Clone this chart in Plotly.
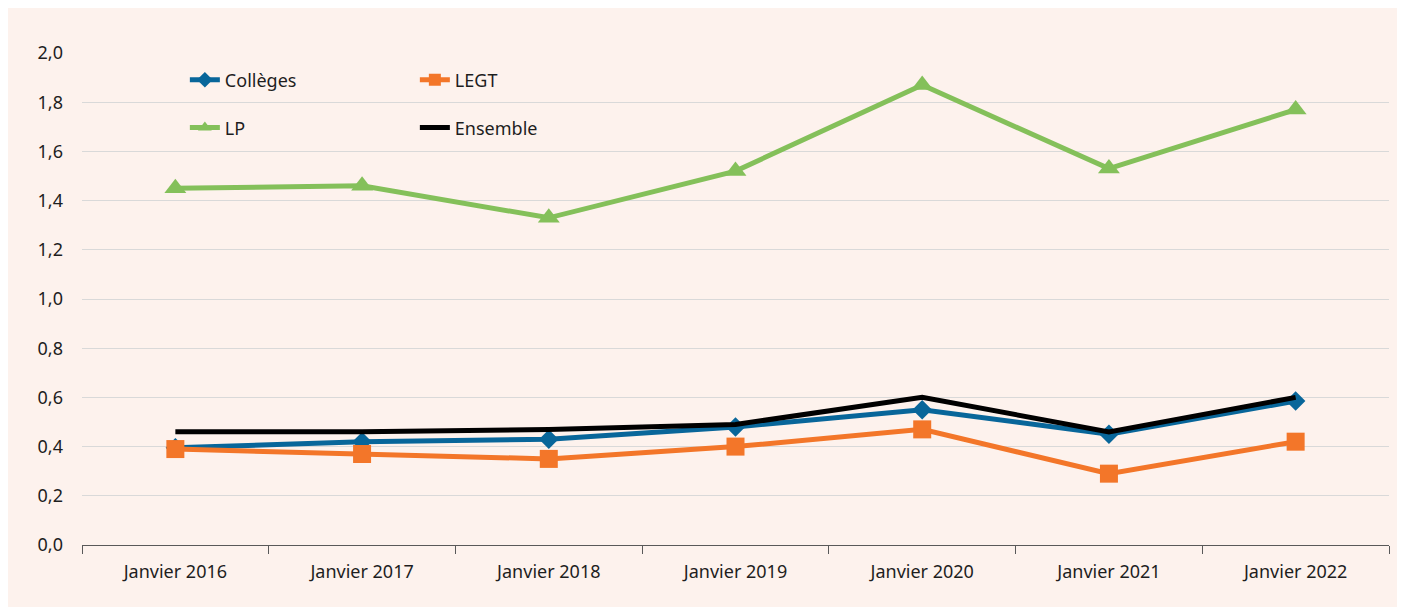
import plotly.graph_objects as go

categories = ["Janvier 2016", "Janvier 2017", "Janvier 2018", "Janvier 2019",
              "Janvier 2020", "Janvier 2021", "Janvier 2022"]
colleges = [0.395, 0.42, 0.43, 0.48, 0.55, 0.45, 0.585]
legt = [0.39, 0.37, 0.35, 0.40, 0.47, 0.29, 0.42]
lp = [1.45, 1.46, 1.33, 1.52, 1.87, 1.53, 1.77]
ensemble = [0.46, 0.46, 0.47, 0.49, 0.60, 0.46, 0.60]
y_ticks = [0.0, 0.2, 0.4, 0.6, 0.8, 1.0, 1.2, 1.4, 1.6, 1.8, 2.0]

FONT = "Noto Sans"
TXT = "#1e1e1e"
BG = "#fdf2ed"

fig = go.Figure()
fig.add_trace(go.Scatter(x=categories, y=colleges, name="Collèges", mode="lines+markers",
                         line=dict(color="#08669a", width=5),
                         marker=dict(symbol="diamond", size=15, color="#08669a"),
                         legend="legend"))
fig.add_trace(go.Scatter(x=categories, y=legt, name="LEGT", mode="lines+markers",
                         line=dict(color="#f37629", width=5),
                         marker=dict(symbol="square", size=18, color="#f37629"),
                         legend="legend"))
fig.add_trace(go.Scatter(x=categories, y=lp, name="LP", mode="lines+markers",
                         line=dict(color="#84c05a", width=5),
                         marker=dict(symbol="triangle-up", size=19, color="#84c05a"),
                         legend="legend2"))
fig.add_trace(go.Scatter(x=categories, y=ensemble, name="Ensemble", mode="lines",
                         line=dict(color="#000000", width=5),
                         legend="legend2"))

legend_common = dict(orientation="h", bgcolor="rgba(0,0,0,0)",
                     font=dict(family=FONT, size=18, color=TXT),
                     entrywidth=185, entrywidthmode="pixels",
                     xanchor="left", yanchor="middle", itemsizing="constant")

fig.update_layout(
    width=1405, height=607,
    margin=dict(l=74, r=24, t=45, b=70),
    paper_bgcolor=BG,
    plot_bgcolor=BG,
    separators=", ",
    font=dict(family=FONT, size=18, color=TXT),
    showlegend=True,
    legend=dict(x=0.0787, y=0.945, **legend_common),
    legend2=dict(x=0.0787, y=0.848, **legend_common),
    xaxis=dict(type="category", range=[-0.5, 6.5], showline=True, linecolor="#595959",
               linewidth=1.3, ticks="outside", tickson="boundaries", ticklen=8,
               tickcolor="#595959", showgrid=False, ticklabelstandoff=10,
               tickfont=dict(family=FONT, size=18, color=TXT)),
    yaxis=dict(range=[0, 2.0], tickvals=y_ticks, tickformat=".1f", showgrid=True,
               gridcolor="#d9d9d9", gridwidth=1, zeroline=False, showline=False,
               ticklabelstandoff=18, tickfont=dict(family=FONT, size=18, color=TXT)),
)

post = ("var g=document.getElementById('{plot_id}');"
        "g.style.width='1405px';g.style.height='607px';g.style.overflow='visible';")
fig.write_html("out.html", post_script=post)
